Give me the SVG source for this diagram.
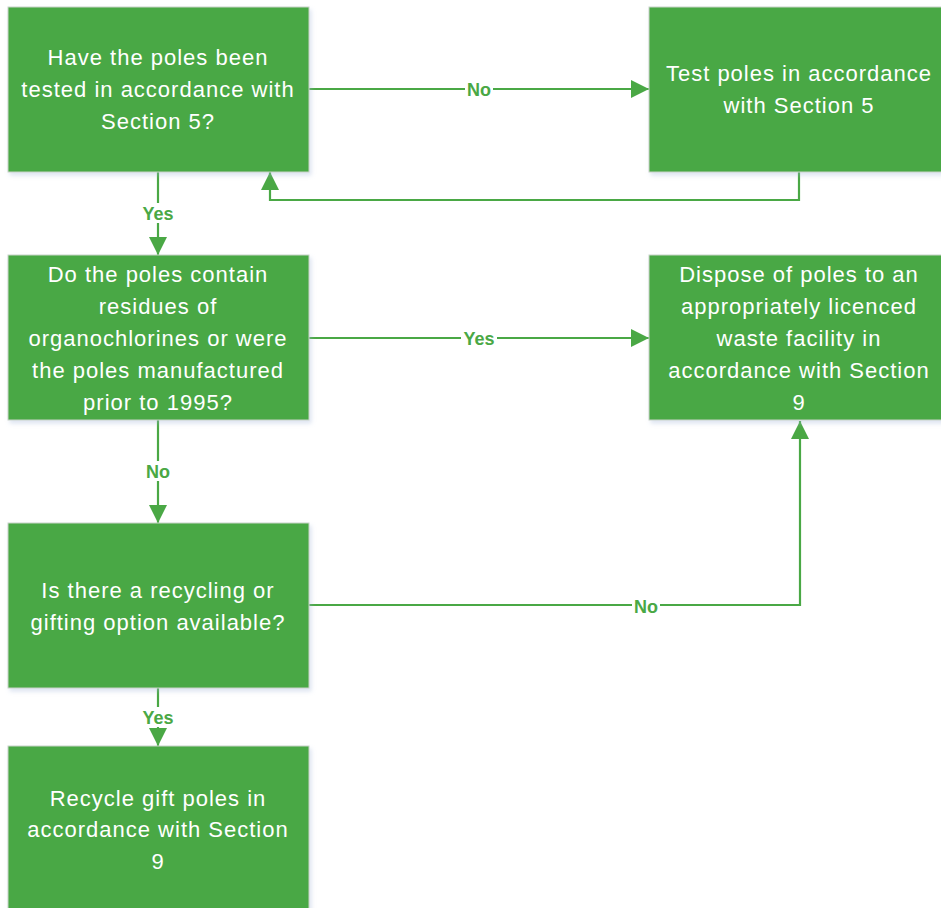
<svg xmlns="http://www.w3.org/2000/svg" width="941" height="908" viewBox="0 0 941 908">
<defs>
<marker id="arr" markerWidth="18" markerHeight="18" refX="18" refY="9" orient="auto" markerUnits="userSpaceOnUse">
<path d="M0,0 L18,9 L0,18 Z" fill="#4aa845"/>
</marker>
<filter id="sh" x="-5%" y="-5%" width="115%" height="115%">
<feDropShadow dx="2" dy="3" stdDeviation="2" flood-color="#9fb4d6" flood-opacity="0.35"/>
</filter>
</defs>
<style>
.box{fill:#4aa845;stroke:#c9d3c9;stroke-width:1;filter:url(#sh)}
.t{font-family:"Liberation Sans",Arial,sans-serif;font-size:22px;letter-spacing:1px;fill:#ffffff;text-anchor:middle}
.c{fill:none;stroke:#4aa845;stroke-width:2.2}
.lb{font-family:"Liberation Sans",Arial,sans-serif;font-size:18px;font-weight:bold;fill:#4aa845;text-anchor:middle}
.bg{fill:#ffffff}
</style>
<rect width="941" height="908" fill="#ffffff"/>
<g id="connectors">
<path class="c" d="M309,89 L649,89" marker-end="url(#arr)"/>
<path class="c" d="M799,172 L799,200 L270,200 L270,172" marker-end="url(#arr)"/>
<path class="c" d="M158,172 L158,255" marker-end="url(#arr)"/>
<path class="c" d="M309,338 L649,338" marker-end="url(#arr)"/>
<path class="c" d="M158,420 L158,523" marker-end="url(#arr)"/>
<path class="c" d="M309,605 L800,605 L800,421" marker-end="url(#arr)"/>
<path class="c" d="M158,688 L158,746" marker-end="url(#arr)"/>
<rect class="bg" x="465" y="79" width="28" height="20"/>
<text class="lb" x="479" y="96">No</text>
<rect class="bg" x="140" y="203" width="36" height="20"/>
<text class="lb" x="158" y="220">Yes</text>
<rect class="bg" x="461" y="328" width="36" height="20"/>
<text class="lb" x="479" y="345">Yes</text>
<rect class="bg" x="144" y="461" width="28" height="20"/>
<text class="lb" x="158" y="478">No</text>
<rect class="bg" x="632" y="596" width="28" height="20"/>
<text class="lb" x="646" y="613">No</text>
<rect class="bg" x="140" y="707" width="36" height="20"/>
<text class="lb" x="158" y="724">Yes</text>
</g>
<g id="node-tested">
<rect class="box" x="8" y="7" width="301" height="165"/>
<text class="t" x="158" y="65">Have the poles been</text>
<text class="t" x="158" y="97">tested in accordance with</text>
<text class="t" x="158" y="129">Section 5?</text>
</g>
<g id="node-test">
<rect class="box" x="649" y="7" width="301" height="165"/>
<text class="t" x="799" y="81">Test poles in accordance</text>
<text class="t" x="799" y="113">with Section 5</text>
</g>
<g id="node-residues">
<rect class="box" x="8" y="255" width="301" height="165"/>
<text class="t" x="158" y="282">Do the poles contain</text>
<text class="t" x="158" y="314">residues of</text>
<text class="t" x="158" y="346">organochlorines or were</text>
<text class="t" x="158" y="378">the poles manufactured</text>
<text class="t" x="158" y="410">prior to 1995?</text>
</g>
<g id="node-dispose">
<rect class="box" x="649" y="255" width="301" height="165"/>
<text class="t" x="799" y="282">Dispose of poles to an</text>
<text class="t" x="799" y="314">appropriately licenced</text>
<text class="t" x="799" y="346">waste facility in</text>
<text class="t" x="799" y="378">accordance with Section</text>
<text class="t" x="799" y="410">9</text>
</g>
<g id="node-recycling">
<rect class="box" x="8" y="523" width="301" height="165"/>
<text class="t" x="158" y="598">Is there a recycling or</text>
<text class="t" x="158" y="630">gifting option available?</text>
</g>
<g id="node-recycle">
<rect class="box" x="8" y="746" width="301" height="170"/>
<text class="t" x="158" y="806">Recycle gift poles in</text>
<text class="t" x="158" y="837">accordance with Section</text>
<text class="t" x="158" y="869">9</text>
</g>
</svg>
